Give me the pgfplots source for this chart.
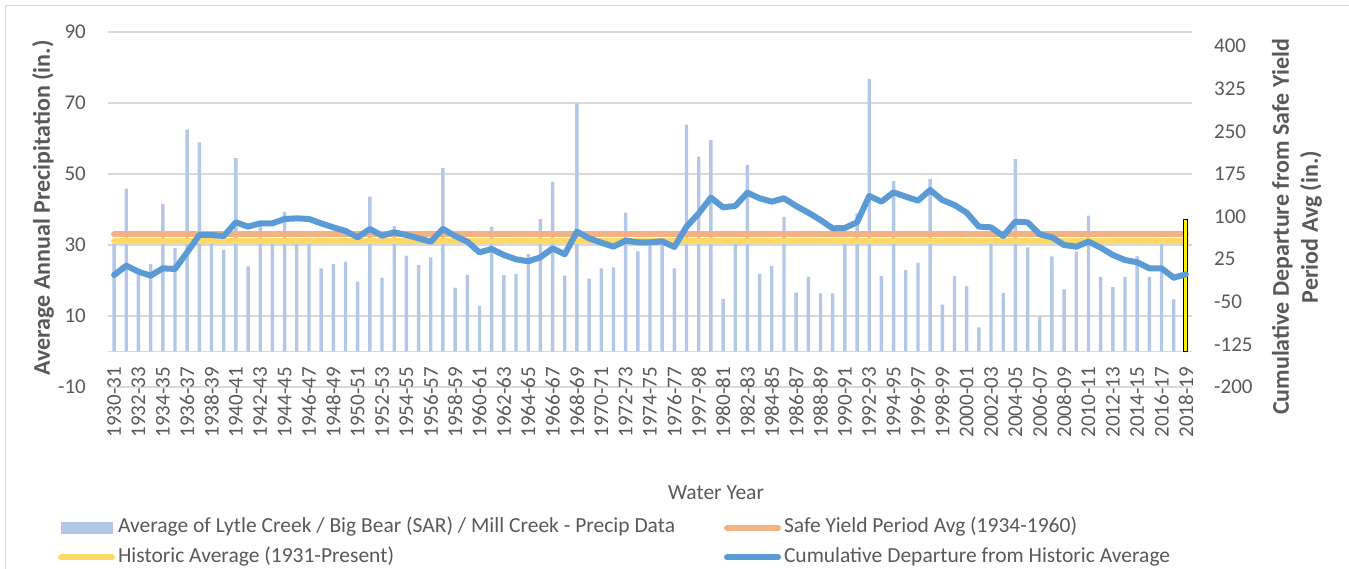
\documentclass[border=0pt]{standalone}
\usepackage{fontspec}
\setmainfont{Carlito}
\usepackage{pgfplots}
\usepackage{pgfplotstable}
\pgfplotsset{compat=1.18}
\definecolor{txt}{HTML}{595959}
\definecolor{gridc}{HTML}{D9D9D9}
\definecolor{barc}{HTML}{B4C7E7}
\definecolor{orangec}{HTML}{F4B183}
\definecolor{yellowc}{HTML}{FFD966}
\definecolor{bluec}{HTML}{5B9BD5}

\pgfplotstableread{
i p c
0 31.0 -2.8
1 45.9 13.6
2 21.5 3.0
3 24.7 -4.0
4 41.6 8.9
5 29.2 7.8
6 62.6 37.1
7 58.9 67.6
8 31.0 67.6
9 28.7 65.8
10 54.5 89.9
11 24.0 82.3
12 35.3 88.1
13 31.5 88.1
14 39.3 95.8
15 31.5 96.9
16 31.5 95.8
17 23.4 88.1
18 24.7 81.1
19 25.3 74.7
20 19.7 63.5
21 43.6 78.2
22 20.8 66.4
23 35.4 72.3
24 27.0 67.6
25 24.3 61.7
26 26.5 55.9
27 51.7 78.2
28 18.0 65.8
29 21.6 55.9
30 12.8 37.0
31 35.2 43.0
32 21.5 32.4
33 21.9 24.8
34 27.4 21.3
35 37.3 28.3
36 47.8 44.1
37 21.4 33.6
38 69.9 73.5
39 20.5 61.7
40 23.4 54.1
41 23.7 47.1
42 39.1 57.7
43 28.2 54.7
44 31.0 54.7
45 31.0 56.5
46 23.4 46.5
47 63.9 82.3
48 54.9 105.7
49 59.6 133.3
50 14.8 116.3
51 32.0 118.7
52 52.6 142.1
53 21.9 132.2
54 24.1 126.3
55 37.9 132.2
56 16.6 118.7
57 21.1 106.9
58 16.4 94.0
59 16.4 79.3
60 32.0 80.0
61 38.9 89.9
62 76.8 136.3
63 21.3 126.3
64 48.0 142.7
65 22.9 135.1
66 25.0 128.1
67 48.6 146.8
68 13.2 129.2
69 21.3 120.4
70 18.4 106.9
71 6.8 82.3
72 31.0 81.1
73 16.5 65.8
74 54.2 91.1
75 29.3 89.9
76 9.8 68.8
77 26.8 63.5
78 17.5 50.0
79 28.1 47.1
80 38.3 55.9
81 21.0 45.3
82 18.1 32.4
83 21.0 23.6
84 26.8 19.5
85 21.0 8.9
86 30.5 8.9
87 14.7 -7.5
}\data

\begin{document}
\begin{tikzpicture}
\useasboundingbox (0pt,0pt) rectangle (1349pt,569pt);
\draw[gridc, line width=1.3pt] (5.5pt,0pt) -- (5.5pt,563.5pt) -- (1349pt,563.5pt);

\begin{axis}[
  at={(108pt,182pt)}, anchor=south west,
  scale only axis, width=1084pt, height=355pt,
  xmin=-0.5, xmax=88.5, ymin=-10, ymax=90,
  xtick={0,2,...,88},
  xticklabels={1930-31,1932-33,1934-35,1936-37,1938-39,1940-41,1942-43,1944-45,1946-47,1948-49,1950-51,1952-53,1954-55,1956-57,1958-59,1960-61,1962-63,1964-65,1966-67,1968-69,1970-71,1972-73,1974-75,1976-77,1997-98,1980-81,1982-83,1984-85,1986-87,1988-89,1990-91,1992-93,1994-95,1996-97,1998-99,2000-01,2002-03,2004-05,2006-07,2008-09,2010-11,2012-13,2014-15,2016-17,2018-19},
  ytick={-10,10,30,50,70,90},
  yticklabels={-10,10,30,50,70,90},
  extra y ticks={0}, extra y tick labels={},
  extra y tick style={grid=major},
  ymajorgrids, grid style={gridc, line width=1.3pt},
  major tick length=0pt,
  axis x line*=bottom, axis y line*=left,
  y axis line style={draw=none},
  x axis line style={gridc, line width=1.3pt},
  tick label style={font=\fontsize{21}{24}\selectfont, text=txt},
  xticklabel style={rotate=90, anchor=east, inner sep=0pt},
  xticklabel shift=-20pt,
  yticklabel style={anchor=east, inner sep=0pt},
  yticklabel shift=22pt,
  legend columns=2,
  legend cell align=left,
  legend style={
    at={(-0.0461,-0.369)}, anchor=north west,
    draw=none, fill=none, inner sep=0pt, outer sep=0pt,
    font=\fontsize{21.5}{25}\selectfont, text=txt,
    nodes={inner xsep=3pt, inner ysep=0pt, text height=15pt, text depth=5pt},
    row sep=9.5pt,
    /tikz/every even column/.append style={column sep=46pt},
  },
]
\addplot[ybar, bar width=3.4pt, bar shift=0pt, fill=barc, draw=none,
  legend image code/.code={\fill[barc] (3pt,-6pt) rectangle (55pt,6pt);}]
  table[x=i, y=p] {\data};
\addlegendentry{Average of Lytle Creek / Big Bear (SAR) / Mill Creek - Precip Data}
\addplot[orangec, line width=6pt, line cap=round,
  legend image code/.code={\draw[orangec, line width=6pt, line cap=round] (3pt,0pt) -- (54pt,0pt);}]
  coordinates {(0,33) (88,33)};
\addlegendentry{Safe Yield Period Avg (1934-1960)}
\addplot[yellowc, line width=6pt, line cap=round,
  legend image code/.code={\draw[yellowc, line width=6pt, line cap=round] (3pt,0pt) -- (54pt,0pt);}]
  coordinates {(0,31) (88,31)};
\addlegendentry{Historic Average (1931-Present)}
\addlegendimage{legend image code/.code={\draw[bluec, line width=6pt, line cap=round] (3pt,0pt) -- (54pt,0pt);}}
\addlegendentry{Cumulative Departure from Historic Average}
\addplot[ybar, bar width=4pt, bar shift=0pt, fill=yellow, draw=black, line width=1pt, forget plot]
  coordinates {(88,37.2)};
\end{axis}

\begin{axis}[
  at={(108pt,182pt)}, anchor=south west,
  scale only axis, width=1084pt, height=355pt,
  xmin=-0.5, xmax=88.5, ymin=-200, ymax=425,
  axis x line=none, xtick=\empty,
  axis y line*=right, y axis line style={draw=none},
  ytick={-200,-125,-50,25,100,175,250,325,400},
  yticklabels={-200,-125,-50,25,100,175,250,325,400},
  major tick length=0pt,
  tick label style={font=\fontsize{21}{24}\selectfont, text=txt},
  yticklabel style={anchor=west, inner sep=0pt},
  yticklabel shift=22pt,
]
\addplot[bluec, line width=6pt, line join=round, line cap=round]
  table[x=i, y=c] {\data};
\addplot[bluec, line width=6pt, line join=round, line cap=round]
  coordinates {(87,-7.5) (88,-1.6)};
\end{axis}

\node[rotate=90, text=txt, font=\fontsize{24}{28}\selectfont\bfseries] at (43pt,361pt) {Average Annual Precipitation (in.)};
\node[rotate=90, text=txt, align=center, font=\fontsize{24}{29}\selectfont\bfseries] at (1297pt,342pt) {Cumulative Departure from Safe Yield\\Period Avg (in.)};
\node[text=txt, font=\fontsize{21.5}{25}\selectfont] at (716pt,76pt) {Water Year};
\end{tikzpicture}
\end{document}
